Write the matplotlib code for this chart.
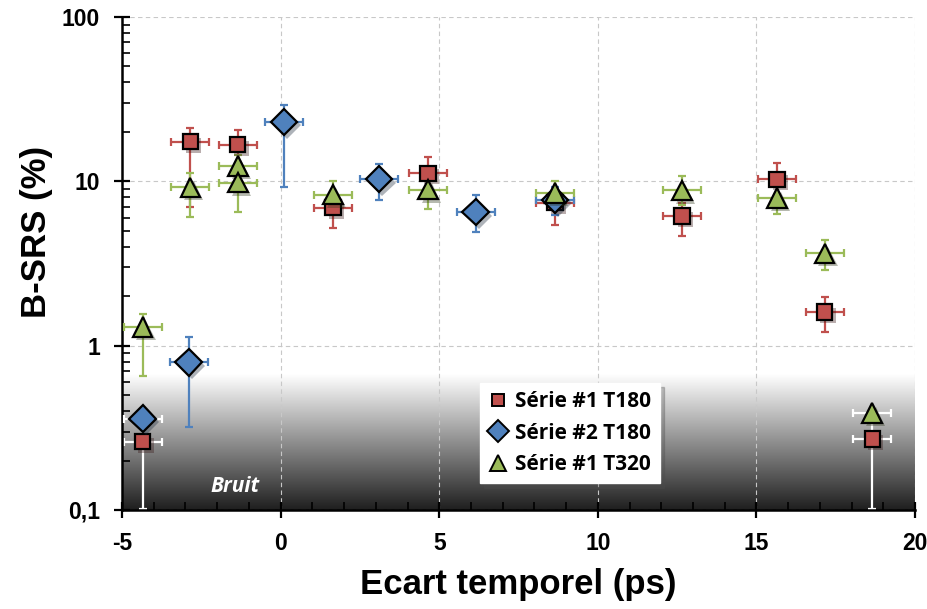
import numpy as np
import matplotlib
matplotlib.use('Agg')
import matplotlib.pyplot as plt
import matplotlib.patheffects as pe
from matplotlib.lines import Line2D
from matplotlib.ticker import MultipleLocator, LogLocator, NullFormatter

plt.rcParams['axes.unicode_minus'] = False

# Série #1 T180
x1 = [-4.35, -2.85, -1.35, 1.65, 4.65, 8.65, 12.65, 15.65, 17.15, 18.65]
y1 = [0.26, 17.4, 16.7, 6.9, 11.2, 7.4, 6.15, 10.3, 1.6, 0.27]
y1lo = [0.102, 7.0, 12.0, 5.2, 9.0, 5.4, 4.65, 8.0, 1.21, 0.102]
y1hi = [0.28, 21.0, 20.5, 8.5, 14.1, 8.5, 7.4, 12.9, 1.98, 0.29]
b1 = [True, False, False, False, False, False, False, False, False, True]

# Série #2 T180
x2 = [-4.35, -2.9, 0.1, 3.1, 6.15, 8.65]
y2 = [0.36, 0.79, 23.0, 10.3, 6.5, 7.7]
y2lo = [0.36, 0.32, 9.2, 7.7, 4.9, 6.2]
y2hi = [0.36, 1.13, 29.0, 12.8, 8.2, 9.2]
b2 = [True, False, False, False, False, False]

# Série #1 T320
x3 = [-4.35, -2.85, -1.35, -1.35, 1.65, 4.65, 8.65, 12.65, 15.65, 17.15, 18.65]
y3 = [1.3, 9.2, 12.4, 9.8, 8.3, 8.9, 8.5, 8.8, 7.9, 3.65, 0.39]
y3lo = [0.65, 6.1, 9.8, 6.5, 7.0, 6.8, 7.0, 7.2, 6.3, 2.9, 0.28]
y3hi = [1.55, 11.3, 14.5, 11.0, 10.0, 10.5, 10.0, 10.7, 9.3, 4.4, 0.39]
b3 = [False, False, False, False, False, False, False, False, False, False, True]

xerr = 0.6
labels = ['Série #1 T180', 'Série #2 T180', 'Série #1 T320']
colors = ['#c0504d', '#4f81bd', '#9bbb59']
markers = ['s', 'D', '^']
msizes = [11, 13.5, 14]

fig = plt.figure(figsize=(9.28, 6.09), dpi=100)
ax = fig.add_axes([0.1315, 0.1626, 0.8545, 0.8095])

# noise gradient at the bottom
g = np.linspace(0.12, 1.0, 256)
col = np.repeat(g[:, None], 2, axis=1)
img = np.dstack([col, col, col])
ax.imshow(img, extent=[0, 1, 0, 0.274], transform=ax.transAxes, origin='lower',
          aspect='auto', zorder=0, interpolation='bilinear')
ax.set_yscale('log')
ax.set_xlim(-5, 20)
ax.set_ylim(0.1, 100)

ax.grid(True, which='major', ls=(0, (4, 3)), color='#c8c8c8', lw=0.8, zorder=0.5)

series = [(x1, y1, y1lo, y1hi, b1), (x2, y2, y2lo, y2hi, b2), (x3, y3, y3lo, y3hi, b3)]
shadow = [pe.SimplePatchShadow(offset=(2.5, -2.5), alpha=0.35), pe.Normal()]
for i, (xs, ys, lo, hi, bruit) in enumerate(series):
    xs = np.array(xs); ys = np.array(ys)
    lo = np.array(lo); hi = np.array(hi)
    yerr = np.vstack([ys - lo, hi - ys])
    for j in range(len(xs)):
        ec = 'white' if bruit[j] else colors[i]
        ax.errorbar(xs[j], ys[j], xerr=xerr, yerr=yerr[:, j:j + 1], fmt='none',
                    ecolor=ec, elinewidth=1.6, capsize=3, capthick=1.6, zorder=2 + i)
    ax.plot(xs, ys, ls='none', marker=markers[i], ms=msizes[i], mfc=colors[i],
            mec='black', mew=1.6, zorder=5 + i, path_effects=shadow)

ax.text(-1.45, 0.138, 'Bruit', color='white', fontsize=15, fontweight='bold',
        fontstyle='italic', family='Open Sans', ha='center', va='center', zorder=9)

# axes styling
for s in ['top', 'right']:
    ax.spines[s].set_visible(False)
for s in ['left', 'bottom']:
    ax.spines[s].set_linewidth(1.8)
ax.set_xticks([-5, 0, 5, 10, 15, 20])
ax.xaxis.set_minor_locator(MultipleLocator(1))
ax.set_yticks([0.1, 1, 10, 100])
ax.set_yticklabels(['0,1', '1', '10', '100'])
ax.yaxis.set_minor_locator(LogLocator(base=10, subs=np.arange(2, 10)))
ax.yaxis.set_minor_formatter(NullFormatter())
ax.tick_params(which='major', direction='inout', length=12, width=1.6,
               labelsize=16.5, pad=10)
ax.tick_params(which='minor', direction='in', length=6, width=1.2)
for lab in ax.get_xticklabels() + ax.get_yticklabels():
    lab.set_fontweight('bold')
    lab.set_family('Liberation Sans')

ax.set_xlabel('Ecart temporel (ps)', fontsize=25, fontweight='bold',
              family='Liberation Sans', labelpad=9)
ax.set_ylabel('B-SRS (%)', fontsize=25, fontweight='bold',
              family='Liberation Sans', labelpad=6)
ax.yaxis.label.set_y(0.565)

handles = [Line2D([], [], ls='none', marker=markers[i], ms=msizes[i] - 2,
                  mfc=colors[i], mec='black', mew=1.4) for i in range(3)]
leg = ax.legend(handles, labels, loc='upper left', bbox_to_anchor=(0.4515, 0.2576),
                borderaxespad=0, frameon=True, fancybox=False,
                shadow={'ox': 3, 'oy': -3, 'alpha': 0.3},
                prop={'family': 'Open Sans', 'weight': 'bold', 'size': 15},
                handletextpad=0.4, labelspacing=0.5, borderpad=0.4, handlelength=0.9)
leg.get_frame().set_edgecolor('white')
leg.set_zorder(10)

fig.savefig('out.png', dpi=100)
